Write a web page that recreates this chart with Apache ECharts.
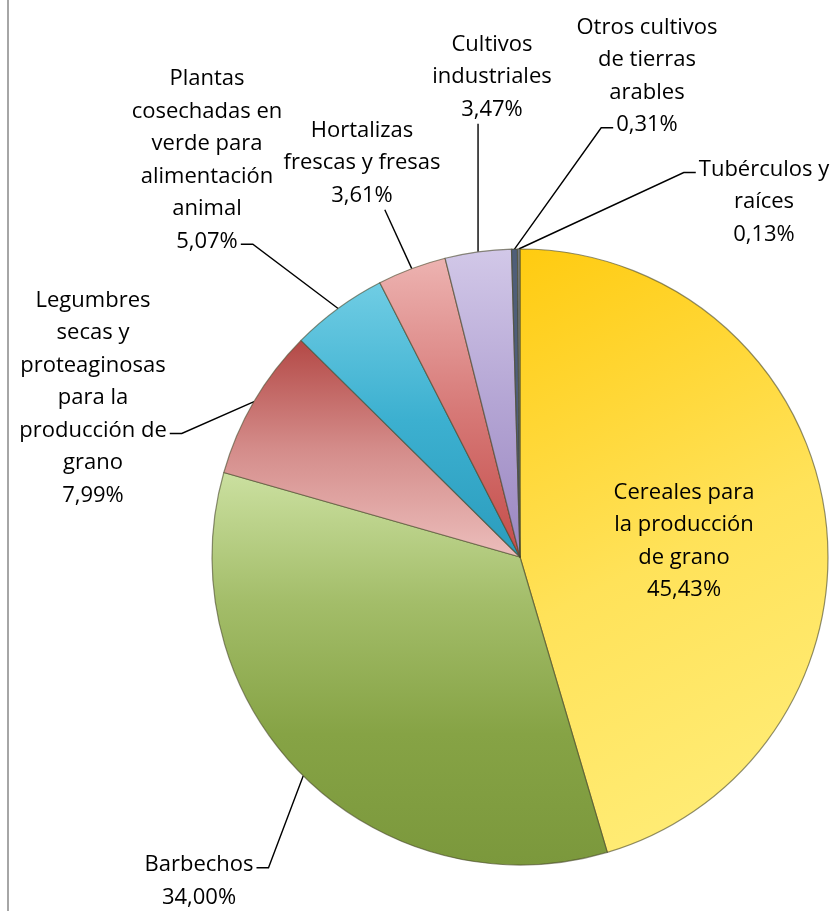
<!DOCTYPE html>
<html>
<head>
<meta charset="utf-8">
<script src="https://cdn.jsdelivr.net/npm/echarts@6/dist/echarts.min.js"></script>
<style>
  html, body { margin: 0; padding: 0; background: #fff; }
  #frame { position: absolute; left: 7px; top: 0; width: 2px; height: 911px; background: #a6a6a6; }
  #pie { position: absolute; left: 0; top: 0; width: 840px; height: 911px; }
</style>
</head>
<body>
<div id="pie"></div>
<div id="frame"></div>
<script>
// categories as Excel wrapped them
var categories = [
  "Cereales para\nla producción\nde grano",
  "Barbechos",
  "Legumbres\nsecas y\nproteaginosas\npara la\nproducción de\ngrano",
  "Plantas\ncosechadas en\nverde para\nalimentación\nanimal",
  "Hortalizas\nfrescas y fresas",
  "Cultivos\nindustriales",
  "Otros cultivos\nde tierras\narables",
  "Tubérculos y\nraíces"
]
var shares = [45.43, 34.0, 7.99, 5.07, 3.61, 3.47, 0.31, 0.13]

// where each label block sits (centre of the text block)
var labelSpots = [
  [684, 541], [199, 881], [93, 398], [207, 160],
  [362, 163], [492, 77], [647, 76], [764, 202]
]
// which side / which text row the leader line hooks onto
var labelHooks = [
  null, ["right", 0], ["right", 4], ["right", 5],
  ["bottom", 2], ["bottom", 2], ["left", 3], ["left", 0]
]

var FONT_SIZE = 22
var LINE_H = 32.5
var FONT_FAMILY = "Open Sans"

function grad(x2, y2, stops) {
  return {
    type: "linear", x: 0, y: 0, x2: x2, y2: y2,
    colorStops: stops.map(function (c, i) {
      return { offset: i / (stops.length - 1), color: c }
    })
  }
}

var sliceColors = [
  grad(1, 1, ["#ffcb10", "#ffe259", "#ffef7e"]),
  grad(0, 1, ["#cbe0a0", "#a3bd69", "#86a345", "#7b983c"]),
  grad(0, 1, ["#b34845", "#d48c8a", "#ecbebc"]),
  grad(0, 1, ["#70cde4", "#3cb0d0", "#2b9cbd"]),
  grad(0, 1, ["#edb3b1", "#d77a78", "#c44c49"]),
  grad(0, 1, ["#d2c8e8", "#b4a5d4", "#9a86c0"]),
  "#4f5e78",
  "#7c808a"
]

function fmtShare(v) {
  return v.toFixed(2).replace(".", ",") + "%"
}

function labelText(i) {
  return categories[i] + "\n" + fmtShare(shares[i])
}

var measureCtx = document.createElement("canvas").getContext("2d")
measureCtx.font = FONT_SIZE + "px '" + FONT_FAMILY + "'"

function hookPoints(i, edge) {
  var spot = labelSpots[i]
  var hook = labelHooks[i]
  var rows = labelText(i).split("\n")
  var top = spot[1] - (rows.length * LINE_H) / 2
  var w = measureCtx.measureText(rows[hook[1]]).width
  var rowY = top + LINE_H * (hook[1] + 0.5) + 3
  if (hook[0] === "right") {
    var xr = spot[0] + w / 2 + 3
    return [edge, [xr + 12, rowY], [xr, rowY]]
  }
  if (hook[0] === "left") {
    var xl = spot[0] - w / 2 - 3
    return [edge, [xl - 12, rowY], [xl, rowY]]
  }
  var yb = top + LINE_H * rows.length - 2
  var xb = Math.max(spot[0] - w / 2 + 8, Math.min(spot[0] + w / 2 - 8, edge[0]))
  return [edge, [xb, yb], [xb, yb]]
}

var chart = echarts.init(document.getElementById("pie"))

var pieData = categories.map(function (name, i) {
  var item = {
    name: name,
    value: shares[i],
    itemStyle: { color: sliceColors[i] }
  }
  if (i === 0) {
    item.label = { position: "inside" }
    item.labelLine = { show: false }
  }
  return item
})

var option = {
  backgroundColor: "#ffffff",
  animation: false,
  series: [
    {
      type: "pie",
      center: [520, 557],
      radius: 308,
      startAngle: 90,
      clockwise: true,
      avoidLabelOverlap: false,
      data: pieData,
      itemStyle: {
        borderColor: "rgba(70, 70, 40, 0.6)",
        borderWidth: 1.2
      },
      label: {
        show: true,
        position: "outside",
        color: "#000",
        fontFamily: FONT_FAMILY,
        fontSize: FONT_SIZE,
        lineHeight: LINE_H,
        align: "center",
        formatter: function (p) {
          return labelText(p.dataIndex)
        }
      },
      labelLine: {
        show: true,
        length: 10,
        length2: 12,
        lineStyle: { color: "#000", width: 1.4 }
      },
      labelLayout: function (p) {
        var i = p.dataIndex
        var s = labelSpots[i]
        var out = { x: s[0], y: s[1], align: "center", verticalAlign: "middle" }
        if (labelHooks[i] && p.labelLinePoints) {
          out.labelLinePoints = hookPoints(i, p.labelLinePoints[0])
        }
        return out
      }
    }
  ]
}

chart.setOption(option)
</script>
</body>
</html>
